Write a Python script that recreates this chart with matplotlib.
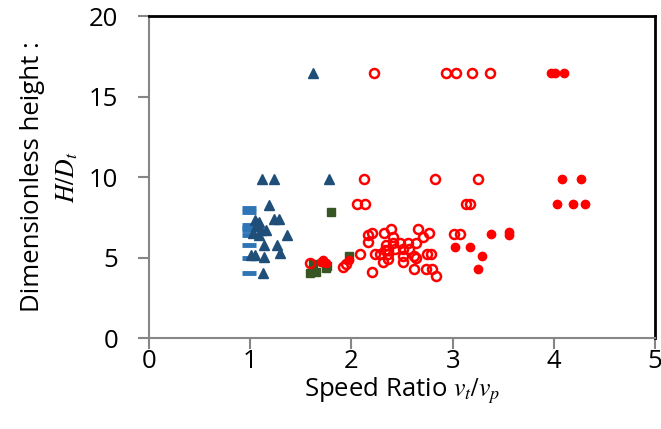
import matplotlib.pyplot as plt

plt.rcParams['font.family'] = ['Open Sans', 'DejaVu Sans']
plt.rcParams['mathtext.fontset'] = 'stix'

# light blue dashes
dash_x = [0.99, 0.99, 0.99, 0.99, 0.99, 0.99, 0.99, 0.99, 0.99]
dash_y = [8.1, 7.8, 7.0, 6.85, 6.7, 6.4, 5.8, 5.0, 4.05]

# dark blue triangles
tri_x = [1.62, 1.12, 1.24, 1.78, 1.19, 1.05, 1.09, 1.24, 1.28, 1.06, 1.11, 1.16,
         1.03, 1.09, 1.36, 1.26, 1.14, 1.29, 1.01, 1.05, 1.14, 1.13]
tri_y = [16.44, 9.86, 9.86, 9.86, 8.26, 7.33, 7.22, 7.37, 7.37, 6.93, 6.71, 6.71,
         6.5, 6.4, 6.4, 5.78, 5.78, 5.26, 5.16, 5.16, 5.05, 4.02]

# dark green squares
sq_x = [1.80, 1.59, 1.65, 1.75, 1.62, 1.76, 1.98]
sq_y = [7.85, 4.05, 4.1, 4.35, 4.6, 4.5, 5.1]

# red open circles
open_x = [2.22, 2.93, 3.03, 3.19, 3.37,
          2.12, 2.83, 3.25,
          2.06, 2.13, 3.13, 3.17,
          3.01, 3.07,
          2.16, 2.20, 2.16, 2.32, 2.39, 2.41, 2.66, 2.71, 2.77,
          2.34, 2.41, 2.48, 2.56, 2.64,
          2.33, 2.36, 2.43, 2.51, 2.57,
          2.23, 2.28, 2.36, 2.51, 2.62, 2.75, 2.79,
          2.31, 2.36, 2.51, 2.64, 2.08, 1.92, 2.20,
          2.62, 2.74, 2.80, 2.84, 1.59, 1.95]
open_y = [16.44, 16.44, 16.44, 16.44, 16.44,
          9.9, 9.9, 9.9,
          8.3, 8.3, 8.3, 8.3,
          6.45, 6.45,
          6.40, 6.50, 5.98, 6.50, 6.77, 6.25, 6.77, 6.29, 6.50,
          5.78, 5.88, 5.88, 5.88, 5.88,
          5.47, 5.47, 5.51, 5.51, 5.51,
          5.22, 5.22, 5.22, 5.09, 5.09, 5.22, 5.22,
          4.74, 4.89, 4.74, 4.95, 5.22, 4.39, 4.12,
          4.26, 4.26, 4.26, 3.85, 4.68, 4.6]

# red filled circles
fill_x = [3.97, 4.01, 4.10, 4.08, 4.27, 4.03, 4.19, 4.31,
          3.38, 3.56, 3.56, 3.02, 3.17, 3.29, 3.25,
          1.72, 1.75, 1.70, 1.98]
fill_y = [16.44, 16.44, 16.44, 9.9, 9.9, 8.3, 8.3, 8.3,
          6.45, 6.6, 6.4, 5.67, 5.67, 5.09, 4.26,
          4.84, 4.64, 4.72, 4.85]

fig = plt.figure(figsize=(6.61, 4.29), dpi=100)
ax = fig.add_axes([0.2254, 0.2121, 0.7656, 0.7506])

ax.plot(dash_x, dash_y, linestyle='none', marker='_', markersize=9.5,
        markeredgewidth=3.5, color='#2E75B6')
ax.plot(tri_x, tri_y, linestyle='none', marker='^', markersize=7.5,
        color='#1F4E79')
ax.plot(sq_x, sq_y, linestyle='none', marker='s', markersize=5.5,
        color='#375623')
ax.plot(open_x, open_y, linestyle='none', marker='o', markersize=6.5,
        markerfacecolor='none', markeredgecolor='#FF0000', markeredgewidth=1.8)
ax.plot(fill_x, fill_y, linestyle='none', marker='o', markersize=6,
        color='#FF0000')

ax.set_xlim(0, 5)
ax.set_ylim(0, 20)
ax.set_xticks([0, 1, 2, 3, 4, 5])
ax.set_yticks([0, 5, 10, 15, 20])

for s in ['left', 'bottom']:
    ax.spines[s].set_color('#868686')
    ax.spines[s].set_linewidth(1.5)
for s in ['top', 'right']:
    ax.spines[s].set_color('black')
    ax.spines[s].set_linewidth(2)

ax.tick_params(axis='both', direction='out', length=8, width=1.5,
               color='#868686', labelsize=18.5)
ax.tick_params(axis='x', pad=0)
ax.tick_params(axis='y', pad=14)

ax.set_xlabel('Speed Ratio $v_t/v_p$', fontsize=18.5, labelpad=1)
ax.set_ylabel('Dimensionless height :\n$H/D_t$', fontsize=18.5, labelpad=6,
              linespacing=1.5)

fig.savefig('out.png', dpi=100)
